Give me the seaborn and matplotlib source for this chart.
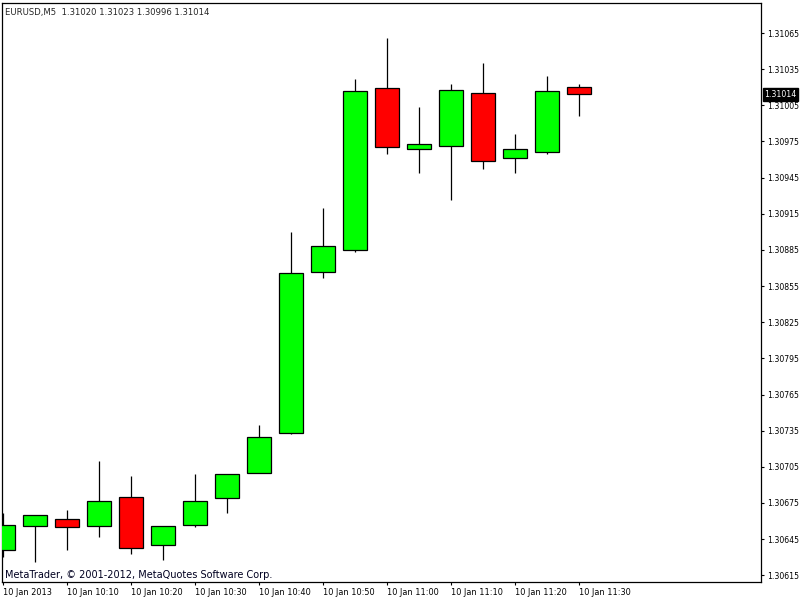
import pandas as pd
import matplotlib
matplotlib.use("Agg")
import matplotlib.pyplot as plt
import seaborn as sns

# EURUSD M5 candles, 10 Jan 2013 10:00 - 11:30
times = ["10:00", "10:05", "10:10", "10:15", "10:20", "10:25", "10:30", "10:35", "10:40", "10:45",
         "10:50", "10:55", "11:00", "11:05", "11:10", "11:15", "11:20", "11:25", "11:30"]
opens = [1.30636, 1.30656, 1.30662, 1.30656, 1.30680, 1.30640, 1.30657, 1.30679, 1.30700, 1.30733,
         1.30867, 1.30885, 1.31019, 1.30969, 1.30971, 1.31015, 1.30961, 1.30966, 1.31020]
highs = [1.30667, 1.30665, 1.30669, 1.30710, 1.30697, 1.30656, 1.30699, 1.30699, 1.30740, 1.30900,
         1.30920, 1.31027, 1.31061, 1.31004, 1.31023, 1.31040, 1.30981, 1.31029, 1.31023]
lows = [1.30630, 1.30626, 1.30636, 1.30647, 1.30633, 1.30628, 1.30655, 1.30667, 1.30700, 1.30732,
        1.30862, 1.30883, 1.30965, 1.30949, 1.30926, 1.30952, 1.30949, 1.30965, 1.30996]
closes = [1.30657, 1.30665, 1.30655, 1.30677, 1.30638, 1.30656, 1.30677, 1.30699, 1.30730, 1.30866,
          1.30888, 1.31017, 1.30970, 1.30973, 1.31018, 1.30959, 1.30969, 1.31017, 1.31014]

price_ticks = [1.30615, 1.30645, 1.30675, 1.30705, 1.30735, 1.30765, 1.30795, 1.30825,
               1.30855, 1.30885, 1.30915, 1.30945, 1.30975, 1.31005, 1.31035, 1.31065]
time_labels = ["10 Jan 2013", "10 Jan 10:10", "10 Jan 10:20", "10 Jan 10:30", "10 Jan 10:40",
               "10 Jan 10:50", "10 Jan 11:00", "10 Jan 11:10", "10 Jan 11:20", "10 Jan 11:30"]

title = "EURUSD,M5  1.31020 1.31023 1.30996 1.31014"
footer = "MetaTrader, \u00a9 2001-2012, MetaQuotes Software Corp."

df = pd.DataFrame({"time": times, "open": opens, "high": highs, "low": lows, "close": closes})
df["idx"] = range(len(df))
df["up"] = df["close"] >= df["open"]
df["body_low"] = df[["open", "close"]].min(axis=1)
df["body_h"] = (df["close"] - df["open"]).abs()

sns.set_style("white")
plt.rcParams["font.family"] = ["DejaVu Sans"]

fig = plt.figure(figsize=(8, 6), dpi=100)
ax = fig.add_axes([2 / 800, 18 / 600, 759 / 800, 579 / 600])

# wicks
ax.vlines(df["idx"], df["low"], df["high"], color="black", linewidth=0.9, zorder=2)

# bodies
colors = ["#00ff00" if u else "#ff0000" for u in df["up"]]
ax.bar(df["idx"], df["body_h"], bottom=df["body_low"], width=0.75,
       color=colors, edgecolor="black", linewidth=0.9, zorder=3)

ax.set_xlim(-1 / 32, 758 / 32)
ax.set_ylim(1.306094, 1.310899)

ax.yaxis.tick_right()
ax.set_yticks(price_ticks)
ax.set_yticklabels([f"{p:.5f}" for p in price_ticks])
ax.set_xticks(df["idx"][::2])
ax.set_xticklabels(time_labels, ha="left")

ax.tick_params(axis="both", direction="out", length=2.5, width=0.8, colors="black", pad=1.5)
ax.tick_params(axis="x", bottom=True, labelsize=5.9)
ax.tick_params(axis="y", right=True, left=False, pad=2.0, labelsize=5.6)

for s in ax.spines.values():
    s.set_color("black")
    s.set_linewidth(0.9)
    s.set_visible(True)

# last price label on the right scale
ax.annotate(f"{closes[-1]:.5f}", xy=(1, closes[-1]), xycoords=("axes fraction", "data"),
            xytext=(2.2, 0), textcoords="offset points", ha="left", va="center",
            fontsize=5.6, color="white", annotation_clip=False,
            bbox=dict(boxstyle="square,pad=0.2", facecolor="black", edgecolor="black"))

fig.text(5 / 800, 1 - 13 / 600, title, fontsize=6.1, va="center", ha="left")
ax.text(3 / 759, 7 / 579, footer, transform=ax.transAxes, fontsize=7.0,
        va="center", ha="left", color="#000020")

fig.savefig("out.png", dpi=100, facecolor="white")
